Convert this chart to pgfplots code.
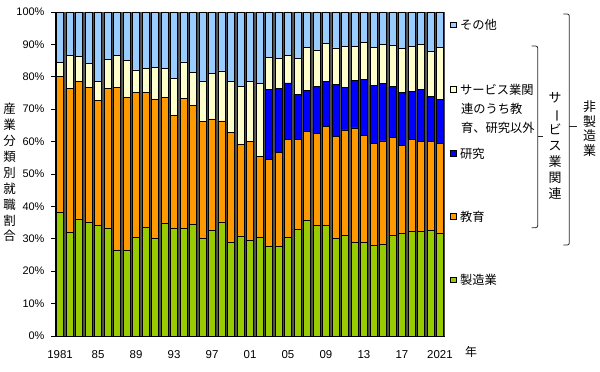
\documentclass[border=0pt]{standalone}
\usepackage{fontspec}
\setmainfont{Liberation Sans}
\newfontfamily\jp{Noto Sans CJK JP}
\usepackage{graphicx}
\usepackage{pgfplots}
\usepackage{pgfplotstable}
\pgfplotsset{compat=1.18}
\definecolor{cGreen}{HTML}{99CC00}
\definecolor{cOrange}{HTML}{FF9900}
\definecolor{cBlue}{HTML}{0000FF}
\definecolor{cYellow}{HTML}{FFFFCC}
\definecolor{cLBlue}{HTML}{99CCFF}
\pgfplotstableread{
x G O B Y L
1 38.1 42.1 0 4.3 15.5
2 31.9 44.4 0 10.4 13.3
3 36.0 42.5 0 7.9 13.6
4 35.0 41.7 0 7.5 15.8
5 34.0 38.8 0 5.7 21.5
6 33.2 43.2 0 9.0 14.6
7 26.5 50.2 0 10.0 13.3
8 26.5 47.1 0 11.4 15.0
9 30.5 44.6 0 7.0 17.9
10 33.4 41.7 0 7.6 17.3
11 30.2 42.8 0 9.8 17.2
12 34.9 38.7 0 9.0 17.4
13 33.2 35.0 0 11.3 20.5
14 33.2 40.2 0 11.2 15.4
15 34.4 36.7 0 10.2 18.7
16 30.2 36.1 0 12.2 21.5
17 32.7 34.3 0 14.1 18.9
18 35.2 31.2 0 15.4 18.2
19 28.9 34.0 0 15.7 21.4
20 30.9 28.2 0 18.0 22.9
21 29.5 30.5 0 18.5 21.5
22 30.5 24.8 0 22.7 22.0
23 27.6 27.0 21.6 9.8 14.0
24 27.8 28.8 19.7 9.3 14.4
25 30.3 30.5 17.3 8.4 13.5
26 32.9 27.8 13.9 11.2 14.2
27 35.8 27.3 12.7 13.2 11.0
28 34.1 28.3 14.6 11.2 11.8
29 34.1 30.7 13.7 11.7 9.8
30 30.1 31.5 16.0 11.3 11.1
31 31.0 32.6 13.0 12.9 10.5
32 28.8 35.4 14.7 10.6 10.5
33 29.0 32.8 17.5 11.3 9.4
34 27.9 31.5 18.0 11.7 10.9
35 28.3 31.9 17.7 12.2 9.9
36 31.0 30.4 15.5 12.8 10.3
37 31.7 27.0 16.4 13.6 11.3
38 32.4 28.3 14.9 13.7 10.7
39 32.4 27.6 16.1 13.9 10.0
40 32.5 27.5 13.9 13.9 12.2
41 31.8 27.6 13.7 15.9 11.0
}\data
\begin{document}
\begin{tikzpicture}
\path[use as bounding box] (0,0) rectangle (600bp,372bp);
\begin{axis}[
  at={(55bp,36bp)}, anchor=south west, scale only axis,
  width=390bp, height=324bp,
  xmin=0.47, xmax=41.53, ymin=0, ymax=100,
  ybar stacked, bar width=7.2bp,
  axis background/.style={fill=black!70},
  axis x line=bottom, axis y line=left,
  axis line style={-, line width=0.8bp},
  xtick={1,5,...,41},
  xticklabels={1981,85,89,93,97,01,05,09,13,17,2021},
  xtick style={draw=none},
  xticklabel style={yshift=-7bp, font=\fontsize{11.5}{13}\selectfont},
  ytick={0,10,...,100},
  yticklabel={\pgfmathprintnumber{\tick}\%},
  yticklabel style={xshift=-3bp, font=\fontsize{11}{13}\selectfont},
  tick align=outside, major tick length=4bp,
  ytick style={line width=0.8bp, black},
  /pgf/number format/assume math mode=true,
  every axis plot/.append style={draw=black, line width=0.7bp},
]
\addplot[fill=cGreen] table[x=x,y=G]{\data};
\addplot[fill=cOrange] table[x=x,y=O]{\data};
\addplot[fill=cBlue] table[x=x,y=B]{\data};
\addplot[fill=cYellow] table[x=x,y=Y]{\data};
\addplot[fill=cLBlue] table[x=x,y=L]{\data};
\end{axis}
\begin{scope}[x=1bp,y=1bp]
% y label
\node[align=center, inner sep=0, font=\jp\fontsize{12.5}{16}\selectfont] at (9.5,199.5) {産\\業\\分\\類\\別\\就\\職\\割\\合};
% year
\node[inner sep=0, font=\jp\fontsize{12}{14}\selectfont] at (471,20) {年};
% legend
\tikzset{lsq/.style={draw=black, line width=0.6bp, minimum size=5.5bp, inner sep=0}}
\tikzset{ltx/.style={anchor=west, inner sep=0, font=\jp\fontsize{12.3}{15}\selectfont}}
\node[lsq, fill=cLBlue] at (453.5,347) {};
\node[ltx] at (460,347) {その他};
\node[lsq, fill=cYellow] at (453.5,282.5) {};
\node[ltx] at (460,282.5) {サービス業関};
\node[ltx] at (461,263.5) {連のうち教};
\node[ltx] at (461,244.5) {育、研究以外};
\node[lsq, fill=cBlue] at (453.5,218.5) {};
\node[ltx] at (460,218.5) {研究};
\node[lsq, fill=cOrange] at (453.5,155.5) {};
\node[ltx] at (460,155.5) {教育};
\node[lsq, fill=cGreen] at (453.5,92) {};
\node[ltx] at (460,92) {製造業};
% brackets
\draw[line width=0.8bp, black!85, rounded corners=2bp] (531.7,326) -- (537.7,326) -- (537.7,144.3) -- (531.7,144.3);
\draw[line width=0.8bp, black!85] (537.7,236) -- (543.3,236);
\draw[line width=0.8bp, black!85, rounded corners=2bp] (563.3,358) -- (569.3,358) -- (569.3,127) -- (563.3,127);
\draw[line width=0.8bp, black!85] (569.3,245.3) -- (576.7,245.3);
\node[align=center, inner sep=0, font=\jp\fontsize{13}{16}\selectfont] at (555,226) {サ\\\rotatebox[origin=c]{-90}{ー}\\ビ\\ス\\業\\関\\連};
\node[align=center, inner sep=0, font=\jp\fontsize{13}{14.5}\selectfont] at (589.5,243.5) {非\\製\\造\\業};
\end{scope}
\end{tikzpicture}
\end{document}
